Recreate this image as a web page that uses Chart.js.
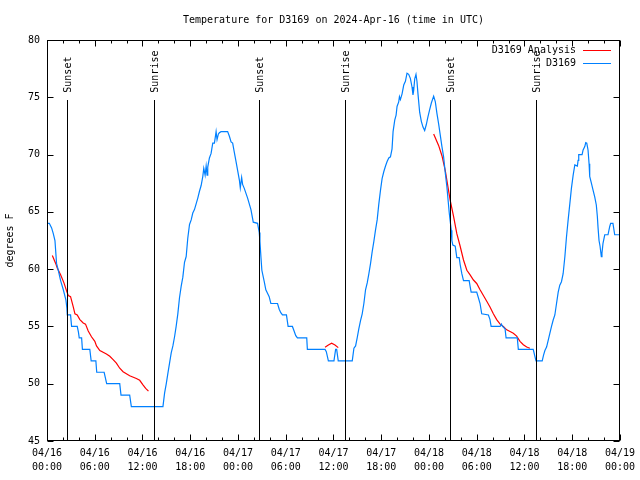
<!DOCTYPE html>
<html><head><meta charset="utf-8">
<script src="https://cdn.jsdelivr.net/npm/chart.js@4"></script>
<style>html,body{margin:0;padding:0;background:#fff}canvas{display:block}</style>
</head><body>
<canvas id="c" width="640" height="480"></canvas>
<script>
const chartTitle = 'Temperature for D3169 on 2024-Apr-16 (time in UTC)';
const yAxisTitle = 'degrees F';
const xTickLabels = [
  ['04/16','00:00'],['04/16','06:00'],['04/16','12:00'],['04/16','18:00'],
  ['04/17','00:00'],['04/17','06:00'],['04/17','12:00'],['04/17','18:00'],
  ['04/18','00:00'],['04/18','06:00'],['04/18','12:00'],['04/18','18:00'],
  ['04/19','00:00']
];
const yTicks = [45,50,55,60,65,70,75,80];

const sunHours  = [2.53, 13.45, 26.58, 37.48, 50.63, 61.42];
const sunLabels = ['Sunset','Sunrise','Sunset','Sunrise','Sunset','Sunrise'];

const obsLabel = 'D3169';
const obsHours = [0,0.29,0.58,0.79,1.0,1.2,1.42,1.71,2.05,2.38,2.5,2.55,2.96,3.09,3.8,3.95,4.05,4.35,4.45,5.38,5.55,6.14,6.25,7.18,7.5,9.14,9.3,10.39,10.6,14.57,
14.78,14.99,15.19,15.40,15.61,15.82,16.03,16.23,16.44,16.65,16.86,17.07,17.28,17.49,17.69,17.91,18.12,18.32,18.53,18.74,18.95,19.16,19.37,19.58,19.70,19.87,20.0,20.12,20.2,20.41,20.62,20.83,21.04,21.25,21.37,21.54,21.66,21.87,22.70,22.92,23.13,23.33,23.54,23.75,23.96,24.17,24.29,24.46,24.58,24.79,25.21,25.63,25.92,26.46,26.67,26.76,26.88,27.0,27.3,27.5,27.71,27.92,28.13,28.97,29.18,29.38,29.59,30.09,30.3,30.84,31.05,31.26,31.47,32.64,32.72,34.94,35.1,35.36,36.06,36.27,36.4,36.6,38.36,
38.57,38.78,38.98,39.19,39.40,39.61,39.82,40.03,40.24,40.45,40.66,40.86,41.07,41.28,41.49,41.70,41.91,42.11,42.32,42.54,42.74,42.95,43.16,43.36,43.49,43.70,43.87,43.99,44.2,44.29,44.41,44.62,44.83,45.04,45.24,45.45,45.66,45.87,45.99,46.08,46.21,46.37,46.49,46.62,46.83,47.04,47.25,47.46,47.66,47.87,48.08,48.3,48.59,48.8,49.0,49.21,49.42,49.63,49.84,50.05,50.25,50.55,50.80,50.88,51.0,51.3,51.5,51.8,51.92,52.13,52.34,53.05,53.17,53.3,54.0,54.21,54.42,54.63,55.47,55.67,55.81,56.94,57.1,57.25,57.56,57.69,59.1,59.23,61.1,61.45,62.23,
62.4,62.57,62.78,62.99,63.19,63.40,63.61,63.82,64.03,64.24,64.44,64.65,64.86,65.08,65.28,65.49,65.70,65.90,66.12,66.33,66.65,66.74,66.82,67.24,67.37,67.58,67.70,67.83,67.99,68.12,68.2,68.41,68.62,68.83,69.03,69.16,69.25,69.37,69.5,69.66,69.74,69.87,70.09,70.5,70.71,70.83,71.12,71.34,72];
const obsTemps = [64,64,63.6,63.1,62.5,60.5,59.9,59.0,58.2,57.3,56.6,56,56,55,55,54.5,54,54,53,53,52,52,51,51,50,50,49,49,48,48,
49.2,50,50.9,51.8,52.7,53.3,54.1,55,56.1,57.5,58.5,59.3,60.6,61.1,62.7,63.9,64.3,64.9,65.2,65.7,66.2,66.8,67.3,68.1,68.8,68.2,69,68.2,68.9,69.7,70.1,71.0,71,72,71.3,71.8,71.9,72,72,71.6,71.1,71.0,70.2,69.4,68.6,67.8,67.1,68,67.4,67.05,66.2,65.2,64.1,64,63.2,62.4,61.1,59.9,58.9,58.2,57.9,57.6,57.0,57,56.5,56.2,56,56,55,55,54.6,54.2,54,54,53,53,52.8,52,52,53,53,52,52,
53.1,53.3,54,54.8,55.5,56.1,57,58.2,58.8,59.6,60.5,61.5,62.4,63.4,64.3,65.7,66.9,67.9,68.5,69,69.4,69.7,69.8,70.5,72,73,73.45,74.2,74.6,75.05,74.8,75.3,76.07,76.4,77.1,77,76.65,75.9,75.2,75.6,76.6,77,76.4,75.3,73.7,72.9,72.4,72.1,72.6,73.3,73.9,74.5,75.1,74.6,73.6,72.7,71.7,70.7,69.8,68.4,67.2,64.9,63.4,62.5,62.1,62,61,61,60.4,59.6,59,59,58.5,58,58,57.5,57.0,56.1,56,55.6,55,55,55.2,55,54.8,54,54,53,53,52,52,
52.5,52.9,53.2,53.8,54.4,55,55.56,56,57,58,58.6,58.9,59.6,61.1,62.8,64.3,65.7,67.05,68.2,69.1,69,69.5,70,70,70.4,70.7,71.05,71,70.4,69.2,68.1,67.5,66.9,66.3,65.6,64.6,63.6,62.5,62,61.1,61.4,62.25,63,63,63.7,64,64,63,63];

const anaLabel = 'D3169 Analysis';
const anaHours = [0.67,1.09,1.29,1.71,2.13,2.46,2.67,2.96,3.30,3.51,3.80,4.13,4.55,4.84,5.18,5.59,6.01,6.22,6.64,7.47,7.89,8.31,8.72,9.14,9.56,10.39,11.23,11.65,12.06,12.4,12.75,
13.0,
34.94,35.36,35.77,36.19,36.6,
37.0,
48.59,49.21,49.63,50.05,50.38,50.67,51.09,51.5,51.92,52.34,52.76,53.17,53.59,54.0,54.42,54.84,55.26,55.67,56.09,56.51,56.94,57.35,57.77,58.19,58.6,59.02,59.44,59.86,60.28,60.69];
const anaTemps = [61.2,60.5,60.1,59.5,58.8,58.1,57.7,57.6,56.7,56.1,56.0,55.6,55.3,55.2,54.6,54.1,53.7,53.3,52.9,52.6,52.4,52.1,51.8,51.35,51.05,50.7,50.45,50.3,49.9,49.6,49.35,
null,
53.18,53.38,53.53,53.38,53.15,
null,
71.8,70.8,69.9,68.6,67.2,66.0,64.6,63.1,62.0,60.8,59.9,59.5,59.05,58.75,58.2,57.7,57.2,56.7,56.1,55.6,55.2,55.0,54.7,54.55,54.4,54.15,53.7,53.4,53.2,53.1];

const FONT = '"DejaVu Sans Mono", "Liberation Mono", monospace';
const obsColor = '#0080ff', anaColor = '#ff0000';
const sunLineTop = 74.8, sunTextBase = 75.4;

const decor = {
  id: 'decor',
  afterDatasetsDraw(chart) {
    const ctx = chart.ctx, xs = chart.scales.x, ys = chart.scales.y, a = chart.chartArea;
    ctx.save();
    ctx.strokeStyle = '#000'; ctx.lineWidth = 1;
    // sun lines
    const yTop = Math.round(ys.getPixelForValue(sunLineTop));
    sunHours.forEach((h, i) => {
      const x = Math.round(xs.getPixelForValue(h)) + 0.5;
      ctx.beginPath(); ctx.moveTo(x, yTop); ctx.lineTo(x, a.bottom); ctx.stroke();
      ctx.save();
      ctx.translate(x + 1, ys.getPixelForValue(sunTextBase));
      ctx.rotate(-Math.PI / 2);
      ctx.fillStyle = '#000'; ctx.font = '10px ' + FONT;
      ctx.textAlign = 'left'; ctx.textBaseline = 'middle';
      ctx.fillText(sunLabels[i], 0, 0);
      ctx.restore();
    });
    // border
    const L = Math.round(a.left) + 0.5, R = Math.round(a.right) - 0.5, T = Math.round(a.top) + 0.5, B = Math.round(a.bottom) - 0.5;
    ctx.strokeRect(L, T, R - L, B - T);
    // x ticks (inward, mirrored)
    ctx.beginPath();
    for (let h = 0; h <= 72; h += 2) {
      const x = Math.round(xs.getPixelForValue(h)) + 0.5;
      const len = (h % 6 === 0) ? 6 : 3;
      ctx.moveTo(x, B); ctx.lineTo(x, B - len);
      ctx.moveTo(x, T); ctx.lineTo(x, T + len);
    }
    yTicks.forEach(v => {
      const y = Math.round(ys.getPixelForValue(v)) + 0.5;
      ctx.moveTo(L, y); ctx.lineTo(L + 6, y);
      ctx.moveTo(R, y); ctx.lineTo(R - 6, y);
    });
    ctx.stroke();
    // title
    ctx.fillStyle = '#000'; ctx.font = '10px ' + FONT;
    ctx.textAlign = 'center'; ctx.textBaseline = 'middle';
    ctx.fillText(chartTitle, (a.left + a.right) / 2, 20);
    // y title
    ctx.save();
    ctx.translate(10, (a.top + a.bottom) / 2);
    ctx.rotate(-Math.PI / 2);
    ctx.fillText(yAxisTitle, 0, 0);
    ctx.restore();
    // legend
    const items = [[anaLabel, anaColor], [obsLabel, obsColor]];
    items.forEach((it, i) => {
      const y = 50 + i * 13;
      ctx.textAlign = 'right'; ctx.fillStyle = '#000';
      ctx.fillText(it[0], 576, y);
      ctx.strokeStyle = it[1]; ctx.lineWidth = 1;
      ctx.beginPath(); ctx.moveTo(583, y + 0.5); ctx.lineTo(611, y + 0.5); ctx.stroke();
    });
    ctx.restore();
  }
};

const obsData = obsHours.map((h, i) => ({x: h, y: obsTemps[i]}));
const anaData = anaHours.map((h, i) => ({x: h, y: anaTemps[i]}));

new Chart(document.getElementById('c'), {
  type: 'line',
  data: {
    datasets: [
      {label: obsLabel, data: obsData, borderColor: obsColor, borderWidth: 1.2, pointRadius: 0, order: 1, tension: 0},
      {label: anaLabel, data: anaData, borderColor: anaColor, borderWidth: 1.2, pointRadius: 0, order: 2, spanGaps: false, tension: 0}
    ]
  },
  options: {
    responsive: false, animation: false, devicePixelRatio: 1,
    layout: {padding: {top: 40, right: 18, left: 0, bottom: 0}},
    plugins: {legend: {display: false}, tooltip: {enabled: false}, title: {display: false}},
    scales: {
      x: {
        type: 'linear', min: 0, max: 72,
        ticks: {stepSize: 6, autoSkip: false, maxRotation: 0, color: '#000', padding: 5,
          font: {family: FONT, size: 10, lineHeight: 1.4},
          callback: v => xTickLabels[Math.round(v / 6)]},
        grid: {display: false, drawTicks: false}, border: {display: false},
        afterFit(s) { s.height = 39; }
      },
      y: {
        min: 45, max: 80,
        ticks: {stepSize: 5, color: '#000', padding: 7, font: {family: FONT, size: 10}},
        grid: {display: false, drawTicks: false}, border: {display: false},
        afterFit(s) { s.width = 47; }
      }
    }
  },
  plugins: [decor]
});
</script>
</body></html>
